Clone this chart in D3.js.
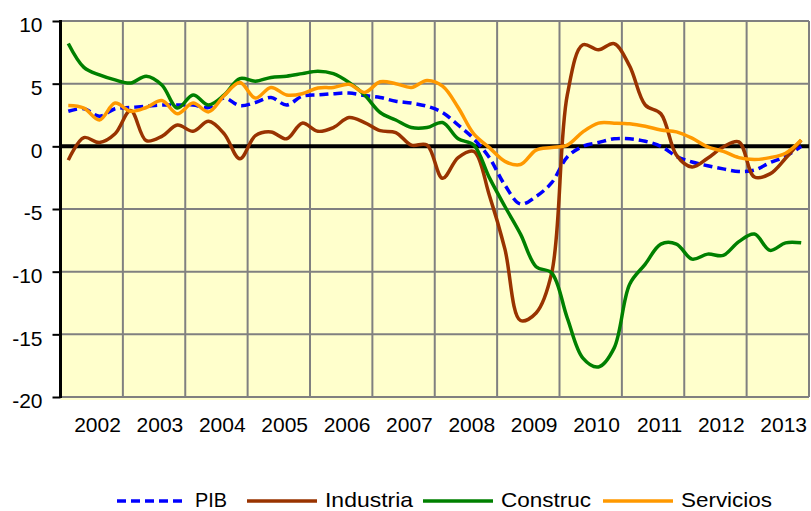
<!DOCTYPE html>
<html>
<head>
<meta charset="utf-8">
<script src="https://cdn.jsdelivr.net/npm/d3@7"></script>
<style>
body { margin: 0; background: #fff; }
text { font-family: "Liberation Sans", Arial, sans-serif; fill: #000; }
</style>
</head>
<body>
<svg id="chart" width="811" height="511"></svg>
<script>
// quarterly data, 2002 Q1 .. 2013 Q4
var years = ["2002","2003","2004","2005","2006","2007","2008","2009","2010","2011","2012","2013"];
var yTicks = [10, 5, 0, -5, -10, -15, -20];

var pib = [2.8, 3.0, 2.4, 3.0, 3.1, 3.2, 3.3, 3.3, 3.3, 3.1, 3.85, 3.25,
	3.5, 3.9, 3.3, 4.0, 4.1, 4.2, 4.25, 4.05, 3.9, 3.6, 3.45, 3.2,
	2.7, 1.7, 0.6, -0.9, -3.1, -4.6, -4.0, -2.9, -0.85, 0.0, 0.3, 0.6,
	0.6, 0.4, 0.0, -0.8, -1.25, -1.55, -1.8, -2.0, -1.9, -1.3, -0.8, 0.0];
var industria = [-1.1, 0.7, 0.3, 1.0, 2.85, 0.45, 0.8, 1.7, 1.2, 2.0, 1.0, -1.0,
	0.85, 1.15, 0.6, 1.85, 1.2, 1.5, 2.3, 1.9, 1.25, 1.1, 0.1, 0.1,
	-2.55, -0.9, -0.4, -3.9, -8.2, -13.9, -13.3, -10.1, 4.1, 8.1, 7.7, 8.2,
	6.4, 3.3, 2.6, -0.7, -1.65, -0.95, -0.05, 0.35, -2.45, -2.2, -0.95, 0.5];
var construc = [8.2, 6.3, 5.7, 5.3, 5.05, 5.6, 4.9, 3.05, 4.1, 3.3, 4.1, 5.4,
	5.2, 5.5, 5.6, 5.8, 6.0, 5.8, 5.1, 4.1, 2.7, 2.1, 1.5, 1.5,
	1.9, 0.6, 0.1, -2.5, -4.8, -7.0, -9.6, -10.1, -13.7, -16.9, -17.6, -16.1,
	-11.0, -9.4, -7.8, -7.8, -9.0, -8.6, -8.7, -7.6, -7.0, -8.3, -7.7, -7.7];
var servicios = [3.25, 3.05, 2.1, 3.45, 2.8, 3.1, 3.65, 2.6, 3.45, 2.75, 4.05, 5.1,
	3.85, 4.7, 4.1, 4.2, 4.65, 4.7, 4.95, 4.3, 5.15, 5.0, 4.7, 5.25,
	4.8, 3.1, 1.0, -0.1, -1.2, -1.45, -0.3, -0.1, 0.1, 1.15, 1.85, 1.85,
	1.8, 1.6, 1.3, 1.15, 0.65, -0.05, -0.4, -0.9, -1.05, -0.9, -0.55, 0.5];

var seriesNames = ["PIB", "Industria", "Construc", "Servicios"];
var seriesColors = ["#0000ff", "#993300", "#008000", "#ff9900"];
var seriesData = [pib, industria, construc, servicios];

var margin = { top: 21, right: 2, bottom: 114, left: 60.5 };
var width = 811 - margin.left - margin.right;
var height = 511 - margin.top - margin.bottom;

var svg = d3.select("#chart");
var g = svg.append("g").attr("transform", "translate(" + margin.left + "," + margin.top + ")");

var xYear = d3.scaleBand().domain(years).range([0, width]);
var x = d3.scaleLinear().domain([0, years.length * 4]).range([0, width]);
var y = d3.scaleLinear().domain([-20, 10]).range([height, 0]);

// plot background
g.append("rect")
	.attr("x", 0).attr("y", 0)
	.attr("width", width).attr("height", height + 3)
	.attr("fill", "#ffffcc");

// horizontal grid
g.selectAll(".hgrid").data(yTicks).enter().append("line")
	.attr("x1", 0).attr("x2", width)
	.attr("y1", function(d) { return y(d); })
	.attr("y2", function(d) { return y(d); })
	.attr("stroke", "#808080").attr("stroke-width", 2);

// vertical grid at year boundaries
g.selectAll(".vgrid").data(years).enter().append("line")
	.attr("x1", function(d, i) { return x((i + 1) * 4); })
	.attr("x2", function(d, i) { return x((i + 1) * 4); })
	.attr("y1", 0).attr("y2", height)
	.attr("stroke", "#808080").attr("stroke-width", 2);

// y axis
var yAxis = d3.axisLeft(y).tickValues(yTicks).tickSize(8).tickPadding(10)
	.tickFormat(function(d) { return String(d); });
var ya = g.append("g").call(yAxis);
ya.select(".domain").remove();
ya.selectAll(".tick line").attr("stroke", "#000").attr("stroke-width", 2);
ya.selectAll(".tick text")
	.attr("font-size", "21px")
	.attr("font-family", "Liberation Sans, Arial, sans-serif")
	.attr("fill", "#000")
	.attr("dy", "0.52em");
g.append("line")
	.attr("x1", 0).attr("x2", 0).attr("y1", -1).attr("y2", height + 1)
	.attr("stroke", "#000").attr("stroke-width", 3);

// x labels (years)
g.selectAll(".xlab").data(years).enter().append("text")
	.attr("x", function(d) { return xYear(d) + xYear.bandwidth() - 2; })
	.attr("y", height + 35)
	.attr("text-anchor", "end")
	.attr("font-size", "21px")
	.text(function(d) { return d; });

// zero line
g.append("line")
	.attr("x1", 0).attr("x2", width)
	.attr("y1", y(0)).attr("y2", y(0))
	.attr("stroke", "#000").attr("stroke-width", 4);

var line = d3.line()
	.x(function(d, i) { return x(i + 0.5); })
	.y(function(d) { return y(d); })
	.curve(d3.curveCatmullRom.alpha(0.5));

seriesData.forEach(function(s, k) {
	g.append("path")
		.datum(s)
		.attr("d", line)
		.attr("fill", "none")
		.attr("stroke", seriesColors[k])
		.attr("stroke-width", 3.5)
		.attr("stroke-linejoin", "round")
		.attr("stroke-dasharray", k == 0 ? "9,5" : null);
});

// legend
var legendX = [117, 247, 423, 603];
var lg = svg.append("g");
seriesNames.forEach(function(name, k) {
	lg.append("line")
		.attr("x1", legendX[k]).attr("x2", legendX[k] + 70)
		.attr("y1", 501).attr("y2", 501)
		.attr("stroke", seriesColors[k])
		.attr("stroke-width", 3.5)
		.attr("stroke-dasharray", k == 0 ? "9,5" : null);
	lg.append("text")
		.attr("x", legendX[k] + 78)
		.attr("y", 507)
		.attr("font-size", "21px")
		.attr("textLength", [32, 88, 90, 91][k])
		.attr("lengthAdjust", "spacingAndGlyphs")
		.text(name);
});
</script>
</body>
</html>
